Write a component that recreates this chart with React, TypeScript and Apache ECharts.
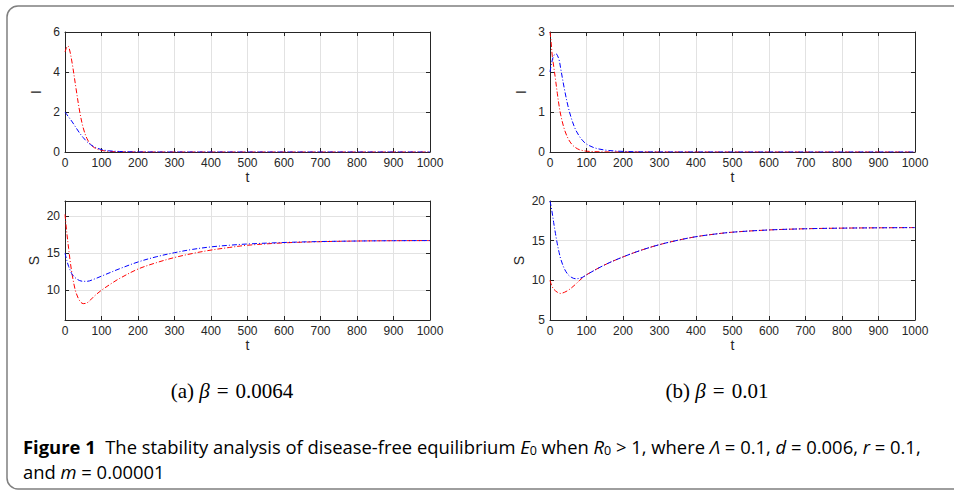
import React, { useEffect, useRef } from "react";
import * as echarts from "echarts";

// ---------- data ----------
const tTicks = [0, 100, 200, 300, 400, 500, 600, 700, 800, 900, 1000];

// (a) beta = 0.0064, I
const tA_I_red = [0, 5, 8, 12, 20, 30, 40, 50, 60, 70, 80, 90, 100, 120, 150, 200, 300, 1000];
const A_I_red = [5.0, 5.25, 5.3, 5.15, 4.4, 3.2, 2.05, 1.2, 0.68, 0.38, 0.22, 0.13, 0.08, 0.03, 0.01, 0.002, 0, 0];
const tA_I_blue = [0, 10, 20, 30, 40, 50, 60, 70, 80, 90, 100, 120, 150, 200, 300, 1000];
const A_I_blue = [2.0, 1.75, 1.5, 1.22, 0.95, 0.72, 0.52, 0.37, 0.26, 0.18, 0.12, 0.06, 0.025, 0.006, 0.001, 0];

// (b) beta = 0.01, I
const tB_I_red = [0, 3, 6, 10, 15, 20, 25, 30, 40, 50, 60, 70, 80, 100, 150, 200, 1000];
const B_I_red = [3.0, 2.75, 2.42, 2.15, 1.82, 1.47, 1.15, 0.9, 0.55, 0.33, 0.19, 0.11, 0.06, 0.02, 0.003, 0, 0];
const tB_I_blue = [0, 5, 10, 16, 20, 25, 30, 40, 50, 60, 70, 80, 90, 100, 120, 150, 200, 300, 1000];
const B_I_blue = [2.0, 2.25, 2.4, 2.46, 2.42, 2.3, 2.05, 1.55, 1.12, 0.8, 0.56, 0.4, 0.28, 0.2, 0.11, 0.05, 0.015, 0.002, 0];

// (a) S
const tA_S_red = [0, 5, 10, 15, 20, 25, 30, 40, 50, 60, 70, 80, 100, 130, 150, 200, 250, 300, 350, 400, 450, 500, 600, 700, 800, 900, 1000];
const A_S_red = [20.2, 17.7, 15.6, 13.6, 12.0, 10.7, 9.7, 8.6, 8.2, 8.3, 8.7, 9.2, 10.0, 11.0, 11.6, 12.85, 13.7, 14.4, 14.95, 15.4, 15.75, 16.05, 16.37, 16.53, 16.62, 16.66, 16.68];
const tA_S_blue = [0, 5, 10, 15, 20, 30, 40, 50, 60, 80, 100, 150, 200, 250, 300, 350, 400, 450, 500, 600, 700, 800, 900, 1000];
const A_S_blue = [15.0, 14.0, 13.2, 12.6, 12.1, 11.6, 11.3, 11.2, 11.2, 11.5, 11.9, 12.9, 13.8, 14.5, 15.05, 15.5, 15.83, 16.05, 16.22, 16.42, 16.55, 16.62, 16.66, 16.68];

// (b) S
const tB_S_red = [0, 5, 10, 20, 28, 40, 50, 60, 70, 80, 90, 100, 150, 200, 250, 300, 350, 400, 450, 500, 600, 700, 800, 900, 1000];
const B_S_red = [10.0, 9.3, 8.9, 8.5, 8.35, 8.5, 8.75, 9.1, 9.5, 9.95, 10.35, 10.7, 11.95, 12.95, 13.8, 14.5, 15.05, 15.5, 15.82, 16.07, 16.35, 16.5, 16.58, 16.62, 16.65];
const tB_S_blue = [0, 5, 10, 15, 20, 25, 30, 40, 50, 60, 70, 80, 90, 100, 150, 200, 250, 300, 350, 400, 450, 500, 600, 700, 800, 900, 1000];
const B_S_blue = [20.0, 18.8, 17.3, 15.9, 14.6, 13.5, 12.6, 11.4, 10.7, 10.35, 10.2, 10.25, 10.4, 10.7, 11.95, 12.95, 13.8, 14.5, 15.05, 15.5, 15.82, 16.07, 16.35, 16.5, 16.58, 16.62, 16.65];

const yTicksAI = [0, 2, 4, 6];
const yTicksBI = [0, 1, 2, 3];
const yTicksAS = [10, 15, 20];
const yTicksBS = [5, 10, 15, 20];

const RED = "#ff0000";
const BLUE = "#0000ff";
const AX = "#262626";
const GRIDC = "#e2e2e2";
const FONT = "Liberation Sans";

const pair = (t: number[], v: number[]) => t.map((x, i) => [x, v[i]]);

type PanelDef = {
  left: number;
  top: number;
  height: number;
  yMin: number;
  yMax: number;
  yTicks: number[];
  yName: string;
  yNameGap: number;
  xNameGap: number;
  red: number[][];
  blue: number[][];
};

const W = 365;

const panels: PanelDef[] = [
  { left: 65, top: 32, height: 120, yMin: 0, yMax: 6, yTicks: yTicksAI, yName: "I", yNameGap: 22, xNameGap: 18, red: pair(tA_I_red, A_I_red), blue: pair(tA_I_blue, A_I_blue) },
  { left: 550, top: 32, height: 120, yMin: 0, yMax: 3, yTicks: yTicksBI, yName: "I", yNameGap: 22, xNameGap: 18, red: pair(tB_I_red, B_I_red), blue: pair(tB_I_blue, B_I_blue) },
  { left: 65, top: 201, height: 119, yMin: 6, yMax: 22, yTicks: yTicksAS, yName: "S", yNameGap: 24, xNameGap: 18, red: pair(tA_S_red, A_S_red), blue: pair(tA_S_blue, A_S_blue) },
  { left: 550, top: 201, height: 119, yMin: 5, yMax: 20, yTicks: yTicksBS, yName: "S", yNameGap: 24, xNameGap: 18, red: pair(tB_S_red, B_S_red), blue: pair(tB_S_blue, B_S_blue) },
];

function buildOption() {
  const grid: any[] = [];
  const xAxis: any[] = [];
  const yAxis: any[] = [];
  const series: any[] = [];
  const tickCommon = { show: true, inside: true, length: 4, lineStyle: { color: AX, width: 1 } };
  const lineCommon = { show: true, onZero: false, lineStyle: { color: AX, width: 1 } };
  const labelCommon = { fontSize: 12, color: AX, fontFamily: FONT, margin: 5, formatter: (v: number) => String(v) };
  const nameStyle = { fontSize: 14, color: AX, fontFamily: FONT };

  panels.forEach((p, i) => {
    grid.push({ left: p.left, top: p.top, width: W, height: p.height, containLabel: false });
    xAxis.push({
      gridIndex: i, type: "value", min: 0, max: 1000, position: "bottom",
      name: "t", nameLocation: "middle", nameGap: p.xNameGap, nameTextStyle: nameStyle,
      axisLine: lineCommon,
      axisTick: { ...tickCommon, customValues: tTicks },
      axisLabel: { ...labelCommon, customValues: tTicks },
      splitLine: { show: true, lineStyle: { color: GRIDC, width: 1 } },
    });
    xAxis.push({
      gridIndex: i, type: "value", min: 0, max: 1000, position: "top",
      axisLine: lineCommon,
      axisTick: { ...tickCommon, customValues: tTicks },
      axisLabel: { show: false },
      splitLine: { show: false },
    });
    yAxis.push({
      gridIndex: i, type: "value", min: p.yMin, max: p.yMax, position: "left",
      name: p.yName, nameLocation: "middle", nameGap: p.yNameGap, nameTextStyle: nameStyle,
      axisLine: lineCommon,
      axisTick: { ...tickCommon, customValues: p.yTicks },
      axisLabel: { ...labelCommon, customValues: p.yTicks },
      splitLine: { show: true, lineStyle: { color: GRIDC, width: 1 } },
    });
    yAxis.push({
      gridIndex: i, type: "value", min: p.yMin, max: p.yMax, position: "right",
      axisLine: lineCommon,
      axisTick: { ...tickCommon, customValues: p.yTicks },
      axisLabel: { show: false },
      splitLine: { show: false },
    });
    const mk = (data: number[][], color: string) => ({
      type: "line",
      xAxisIndex: i * 2,
      yAxisIndex: i * 2,
      data,
      showSymbol: false,
      smooth: 0.35,
      clip: true,
      lineStyle: { color, width: 1, type: [5, 2, 1, 2] },
      z: 3,
    });
    series.push(mk(p.red, RED));
    series.push(mk(p.blue, BLUE));
  });

  const SERIF = "Liberation Serif";
  const capRich = {
    n: { fontFamily: SERIF, fontSize: 21, color: "#111" },
    i: { fontFamily: SERIF, fontSize: 21, fontStyle: "italic", color: "#111" },
  };
  const FS = 18.4;
  const figRich: any = {
    b: { fontFamily: "Open Sans", fontSize: FS, fontWeight: "bold", color: "#231f20", lineHeight: 22 },
    n: { fontFamily: "Open Sans", fontSize: FS, color: "#333", lineHeight: 22 },
    i: { fontFamily: "Open Sans", fontSize: FS, fontStyle: "italic", color: "#333", lineHeight: 22 },
    s: { fontFamily: "Open Sans", fontSize: 12.5, color: "#333", lineHeight: 12, verticalAlign: "bottom" },
  };

  const graphic = [
    {
      type: "rect",
      shape: { x: 7, y: 6, width: 980, height: 483, r: 11 },
      style: { fill: "none", stroke: "#7f7f7f", lineWidth: 1.5 },
      silent: true,
    },
    {
      type: "text", x: 232, y: 391,
      style: { text: "{n|(a) }{i|β}{n|\u2004=\u20040.0064}", rich: capRich, align: "center", verticalAlign: "middle" },
    },
    {
      type: "text", x: 717, y: 391,
      style: { text: "{n|(b) }{i|β}{n|\u2004=\u20040.01}", rich: capRich, align: "center", verticalAlign: "middle" },
    },
    {
      type: "text", x: 23, y: 446,
      style: {
        text: "{b|Figure 1}{n|  The stability analysis of disease-free equilibrium }{i|E}{s|0}{n| when }{i|R}{s|0}{n| > 1, where }{i|Λ}{n| = 0.1, }{i|d}{n| = 0.006, }{i|r}{n| = 0.1,}",
        rich: figRich, align: "left", verticalAlign: "middle",
      },
    },
    {
      type: "text", x: 23, y: 471,
      style: { text: "{n|and }{i|m}{n| = 0.00001}", rich: figRich, align: "left", verticalAlign: "middle" },
    },
  ];

  return { animation: false, backgroundColor: "#ffffff", grid, xAxis, yAxis, series, graphic };
}

export default function App() {
  const ref = useRef<HTMLDivElement>(null);
  useEffect(() => {
    if (!ref.current) return;
    const chart = echarts.init(ref.current, undefined, { renderer: "svg" });
    chart.setOption(buildOption() as any);
    return () => chart.dispose();
  }, []);
  return (
    <div
      ref={ref}
      style={{ position: "absolute", left: 0, top: 0, width: 954, height: 490, background: "#fff" }}
    />
  );
}
